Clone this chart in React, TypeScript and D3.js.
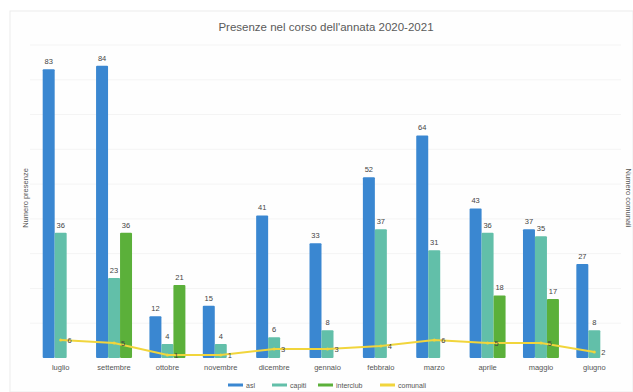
import React from 'react';
import * as d3 from 'd3';

const W = 633;
const H = 392;

const months = ['luglio', 'settembre', 'ottobre', 'novembre', 'dicembre', 'gennaio', 'febbraio', 'marzo', 'aprile', 'maggio', 'giugno'];
const seriesNames = ['asl', 'capiti', 'interclub'];
const asl = [83, 84, 12, 15, 41, 33, 52, 64, 43, 37, 27];
const capiti = [36, 23, 4, 4, 6, 8, 37, 31, 36, 35, 8];
const interclub: (number | null)[] = [null, 36, 21, null, null, null, null, null, 18, 17, null];
const comunali = [6, 5, 1, 1, 3, 3, 4, 6, 5, 5, 2];
const barColors = ['#3a87d1', '#62bfa9', '#5bb03a'];
const lineColor = '#f1d53c';

const App: React.FC = () => {
  const margin = { top: 45, right: 12, bottom: 34, left: 34 };
  const plotBottom = 358;

  const x = d3.scaleBand<string>()
    .domain(months)
    .range([margin.left, W - margin.right])
    .paddingInner(0.326)
    .paddingOuter(0.163);

  const xSub = d3.scaleBand<string>()
    .domain(seriesNames)
    .range([0, x.bandwidth()]);

  const y = d3.scaleLinear().domain([0, 90]).range([plotBottom, margin.top]);
  const y2 = d3.scaleLinear().domain([0, 105]).range([plotBottom, margin.top]);

  const values = [asl, capiti, interclub];
  const cx = (m: string) => (x(m) ?? 0) + x.bandwidth() / 2;

  const line = d3.line<number>()
    .x((_, i) => cx(months[i]))
    .y(d => y2(d));

  const grid = y.ticks(9).filter(t => t > 0);

  const legendItems = [
    { name: 'asl', color: barColors[0], x: 228 },
    { name: 'capiti', color: barColors[1], x: 272 },
    { name: 'interclub', color: barColors[2], x: 318 },
    { name: 'comunali', color: lineColor, x: 380 }
  ];

  const font = '"Liberation Sans", Arial, sans-serif';

  return (
    <svg width={W} height={H} style={{ position: 'absolute', left: 0, top: 0, fontFamily: font }}>
      <rect x={0} y={0} width={W} height={H} fill="#ffffff" />
      <rect x={10} y={11} width={W - 10} height={H - 11} fill="#fefefe" stroke="#ececec" />

      <text x={326} y={31} textAnchor="middle" fontSize={11.5} fill="#5a5a5a">
        Presenze nel corso dell'annata 2020-2021
      </text>

      {grid.map(t => (
        <line key={t} x1={margin.left - 4} x2={W - margin.right} y1={y(t)} y2={y(t)} stroke="#f4f4f4" strokeWidth={1} />
      ))}

      {values.map((vals, si) =>
        vals.map((v, i) => {
          if (v === null) return null;
          const bx = (x(months[i]) ?? 0) + (xSub(seriesNames[si]) ?? 0);
          return (
            <g key={`${si}-${i}`}>
              <rect x={bx} y={y(v)} width={xSub.bandwidth()} height={plotBottom - y(v)} fill={barColors[si]} rx={1} />
              <text x={bx + xSub.bandwidth() / 2} y={y(v) - 5} textAnchor="middle" fontSize={7.5} fill="#444">
                {v}
              </text>
            </g>
          );
        })
      )}

      <path d={line(comunali) ?? ''} fill="none" stroke={lineColor} strokeWidth={2} />
      {comunali.map((v, i) => (
        <g key={`c-${i}`}>
          <circle cx={cx(months[i])} cy={y2(v)} r={1.5} fill={lineColor} />
          <text x={cx(months[i]) + 9} y={y2(v) + 3} textAnchor="middle" fontSize={7.5} fill="#444">
            {v}
          </text>
        </g>
      ))}

      {months.map(m => (
        <text key={m} x={cx(m)} y={370} textAnchor="middle" fontSize={7.5} fill="#555">
          {m}
        </text>
      ))}

      <text transform={`translate(28,198) rotate(-90)`} textAnchor="middle" fontSize={7.5} fill="#555">
        Numero presenze
      </text>
      <text transform={`translate(626,198) rotate(90)`} textAnchor="middle" fontSize={7.5} fill="#555">
        Numero comunali
      </text>

      {legendItems.map(it => (
        <g key={it.name}>
          <line x1={it.x} x2={it.x + 15} y1={385} y2={385} stroke={it.color} strokeWidth={3} />
          <text x={it.x + 18} y={387.5} fontSize={7} fill="#555">{it.name}</text>
        </g>
      ))}
    </svg>
  );
};

export default App;
